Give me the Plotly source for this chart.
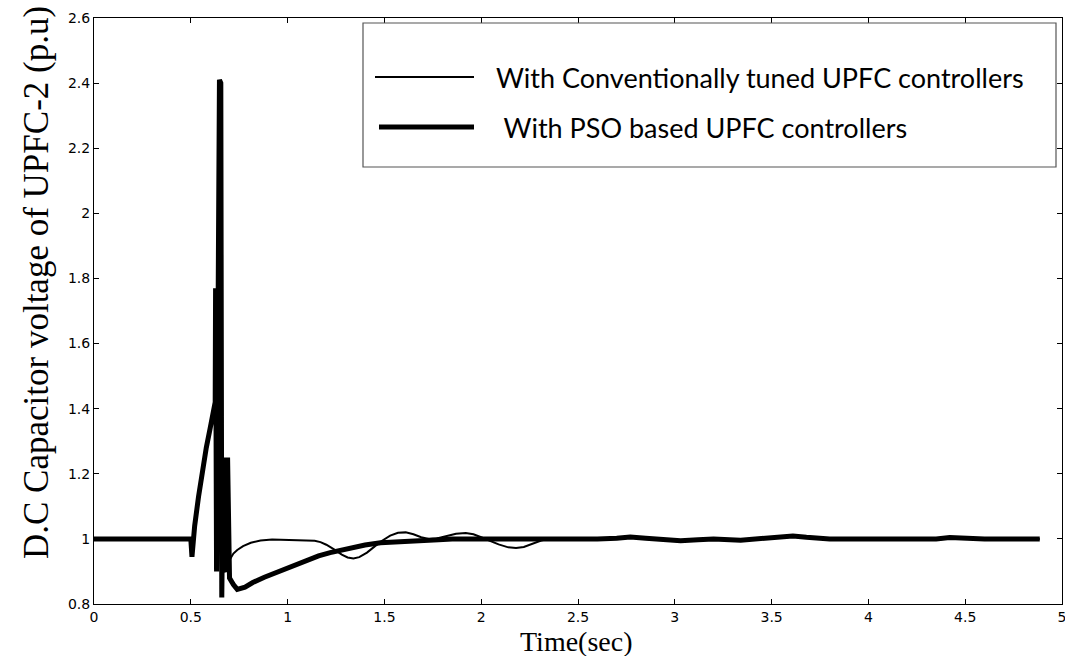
import plotly.graph_objects as go

# ---- data -------------------------------------------------------------
# Conventionally tuned UPFC controllers (thin line)
t_conv = [0.0, 0.5, 0.506, 0.52, 0.54, 0.56, 0.58, 0.60, 0.62, 0.635,
          0.655, 0.67, 0.70, 0.72, 0.74, 0.77, 0.81, 0.86, 0.92, 1.0,
          1.08, 1.14, 1.17, 1.20, 1.24, 1.28, 1.31, 1.34, 1.37, 1.41,
          1.45, 1.49, 1.53, 1.57, 1.61, 1.65, 1.69, 1.73, 1.77, 1.82,
          1.87, 1.92, 1.96, 2.00, 2.04, 2.09, 2.14, 2.18, 2.22, 2.27,
          2.31, 2.35, 2.45, 2.6, 2.7, 2.77, 2.85, 2.95, 3.03, 3.12,
          3.2, 3.34, 3.45, 3.55, 3.61, 3.68, 3.8, 4.0, 4.2, 4.35,
          4.42, 4.5, 4.6, 4.885]
v_conv = [1.0, 1.0, 0.945, 1.04, 1.13, 1.21, 1.28, 1.34, 1.40, 1.45,
          0.90, 0.92, 0.935, 0.955, 0.966, 0.978, 0.988, 0.995, 0.998, 0.997,
          0.996, 0.994, 0.99, 0.982, 0.968, 0.952, 0.943, 0.94, 0.944, 0.958,
          0.977, 0.995, 1.01, 1.019, 1.02, 1.014, 1.005, 1.0, 1.001, 1.008,
          1.016, 1.018, 1.014, 1.005, 0.995, 0.983, 0.974, 0.972, 0.975, 0.985,
          0.995, 1.0, 1.003, 1.0, 1.002, 1.006, 1.002, 0.997, 0.995, 0.998,
          1.0, 0.997, 1.0, 1.005, 1.008, 1.004, 1.0, 1.0, 1.0, 1.0,
          1.004, 1.001, 1.0, 1.0]

# PSO based UPFC controllers (thick line)
t_pso = [0.0, 0.5, 0.506, 0.52, 0.54, 0.56, 0.58, 0.60, 0.62, 0.626,
         0.628, 0.633, 0.648, 0.655, 0.66, 0.668, 0.676, 0.685, 0.69, 0.70,
         0.72, 0.74, 0.78, 0.82, 0.88, 0.96, 1.03, 1.10, 1.16, 1.22,
         1.31, 1.40, 1.48, 1.58, 1.68, 1.78, 1.85, 2.0, 2.2, 2.4,
         2.5, 2.6, 2.7, 2.77, 2.85, 2.95, 3.03, 3.12, 3.2, 3.34,
         3.45, 3.55, 3.61, 3.68, 3.8, 4.1, 4.35, 4.42, 4.5, 4.6,
         4.885]
v_pso = [1.0, 1.0, 0.945, 1.04, 1.13, 1.21, 1.28, 1.34, 1.40, 1.42,
         1.77, 0.90, 2.41, 2.40, 0.82, 1.25, 0.91, 0.90, 1.25, 0.88,
         0.86, 0.845, 0.852, 0.866, 0.882, 0.902, 0.918, 0.935, 0.948, 0.958,
         0.97, 0.981, 0.988, 0.99, 0.992, 0.997, 1.0, 1.0, 1.0, 1.0,
         0.997, 1.0, 1.002, 1.006, 1.002, 0.996, 0.994, 0.997, 1.0, 0.996,
         1.0, 1.005, 1.009, 1.005, 1.0, 1.0, 1.0, 1.004, 1.001, 1.0,
         1.0]

x_tickvals = [0, 0.5, 1, 1.5, 2, 2.5, 3, 3.5, 4, 4.5, 5]
x_ticktext = ["0", "0.5", "1", "1.5", "2", "2.5", "3", "3.5", "4", "4.5", "5"]
y_tickvals = [0.8, 1.0, 1.2, 1.4, 1.6, 1.8, 2.0, 2.2, 2.4, 2.6]
y_ticktext = ["0.8", "1", "1.2", "1.4", "1.6", "1.8", "2", "2.2", "2.4", "2.6"]

legend_labels = ["With Conventionally tuned UPFC controllers",
                 " With PSO based UPFC controllers"]

# ---- layout geometry (pixels) -----------------------------------------
W, H = 1065, 656
L, R, T, B = 94, 1062, 18, 604


def px_x(px):
    return (px - L) / (R - L)


def px_y(py):
    return (B - py) / (B - T)


fig = go.Figure()
fig.add_trace(go.Scatter(x=t_pso, y=v_pso, mode="lines",
                         line=dict(color="black", width=5),
                         name=legend_labels[1], showlegend=False))
fig.add_trace(go.Scatter(x=t_conv, y=v_conv, mode="lines",
                         line=dict(color="black", width=2),
                         name=legend_labels[0], showlegend=False))

tick_font = dict(family="DejaVu Sans", size=14, color="black")
axis_common = dict(showgrid=False, zeroline=False, showline=True,
                   linecolor="black", linewidth=1, mirror="ticks",
                   ticks="inside", ticklen=5, tickwidth=1, tickcolor="black",
                   tickfont=tick_font, ticklabeloverflow="allow",
                   automargin=False)

fig.update_xaxes(range=[0, 5], tickmode="array", tickvals=x_tickvals,
                 ticktext=x_ticktext, **axis_common)
fig.update_yaxes(range=[0.8, 2.6], tickmode="array", tickvals=y_tickvals,
                 ticktext=y_ticktext, **axis_common)

# legend box, sample lines and texts
shapes = [
    dict(type="rect", xref="paper", yref="paper",
         x0=px_x(363), x1=px_x(1056), y0=px_y(167), y1=px_y(23),
         line=dict(color="#555555", width=1.2), fillcolor="white", layer="above"),
    dict(type="line", xref="paper", yref="paper",
         x0=px_x(375), x1=px_x(474), y0=px_y(77), y1=px_y(77),
         line=dict(color="black", width=2)),
    dict(type="line", xref="paper", yref="paper",
         x0=px_x(379), x1=px_x(474), y0=px_y(127), y1=px_y(127),
         line=dict(color="black", width=5)),
]

legend_font = dict(family="Lato", size=27, color="black")
annotations = [
    dict(text=legend_labels[0], xref="paper", yref="paper",
         x=px_x(494), y=px_y(77), xanchor="left", yanchor="middle",
         showarrow=False, font=legend_font),
    dict(text=legend_labels[1], xref="paper", yref="paper",
         x=px_x(495), y=px_y(127), xanchor="left", yanchor="middle",
         showarrow=False, font=legend_font),
    dict(text="Time(sec)", xref="paper", yref="paper",
         x=px_x(576), y=px_y(641), xanchor="center", yanchor="middle",
         showarrow=False, borderpad=0,
         font=dict(family="Liberation Serif", size=28, color="black")),
    dict(text="D.C Capacitor voltage of UPFC-2 (p.u)", xref="paper", yref="paper",
         x=px_x(36), y=px_y(283), xanchor="center", yanchor="middle",
         textangle=-90, showarrow=False,
         font=dict(family="Liberation Serif", size=35, color="black")),
]

fig.update_layout(width=W, height=H, autosize=False,
                  margin=dict(l=L, r=W - R, t=T, b=H - B, autoexpand=False),
                  paper_bgcolor="white", plot_bgcolor="white",
                  shapes=shapes, annotations=annotations, showlegend=False)

fig.write_html("out.html")
